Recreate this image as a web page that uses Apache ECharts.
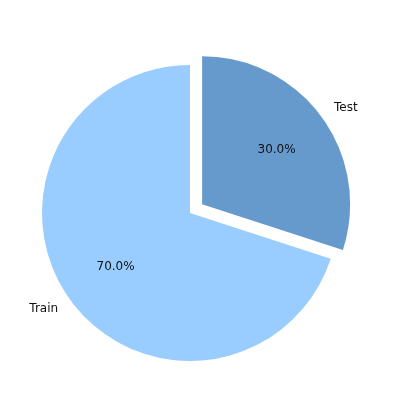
<!DOCTYPE html>
<html>
<head>
<meta charset="utf-8">
<script src="https://cdn.jsdelivr.net/npm/echarts@6/dist/echarts.min.js"></script>
<style>
  html, body { margin: 0; padding: 0; background: #fff; }
  #chart { width: 400px; height: 411px; }
</style>
</head>
<body>
<div id="chart"></div>
<script>
  // split sizes
  var names = ['Test', 'Train'];
  var values = [30, 70];
  var colors = ['#6699cc', '#99ccff'];
  var explodedName = 'Test';

  var pieData = names.map(function (n, i) {
    return {
      name: n,
      value: values[i],
      selected: n === explodedName,
      itemStyle: { color: colors[i] }
    };
  });
  var ghostData = names.map(function (n, i) {
    return { name: n, value: values[i], selected: n === explodedName };
  });

  var chart = echarts.init(document.getElementById('chart'));
  chart.setOption({
    animation: false,
    series: [
      {
        // the pie itself with the name labels outside
        type: 'pie',
        center: [190, 213],
        radius: [0, 148],
        startAngle: 90,
        clockwise: true,
        selectedMode: 'single',
        selectedOffset: 15,
        avoidLabelOverlap: false,
        label: {
          show: true,
          position: 'outside',
          formatter: '{b}',
          fontFamily: 'DejaVu Sans',
          fontSize: 12,
          color: '#111',
          distanceToLabelLine: 0
        },
        labelLine: { show: false, length: 15, length2: 0 },
        emphasis: { disabled: true },
        data: pieData
      },
      {
        // transparent copy, sized so its inside labels sit at 0.6 r
        type: 'pie',
        silent: true,
        center: [190, 213],
        radius: [0, 178],
        startAngle: 90,
        clockwise: true,
        selectedMode: 'single',
        selectedOffset: 15,
        itemStyle: { color: 'rgba(0,0,0,0)' },
        label: {
          show: true,
          position: 'inside',
          formatter: function (p) { return p.percent.toFixed(1) + '%'; },
          fontFamily: 'DejaVu Sans',
          fontSize: 12,
          color: '#111'
        },
        labelLine: { show: false },
        emphasis: { disabled: true },
        data: ghostData
      }
    ]
  });
</script>
</body>
</html>
